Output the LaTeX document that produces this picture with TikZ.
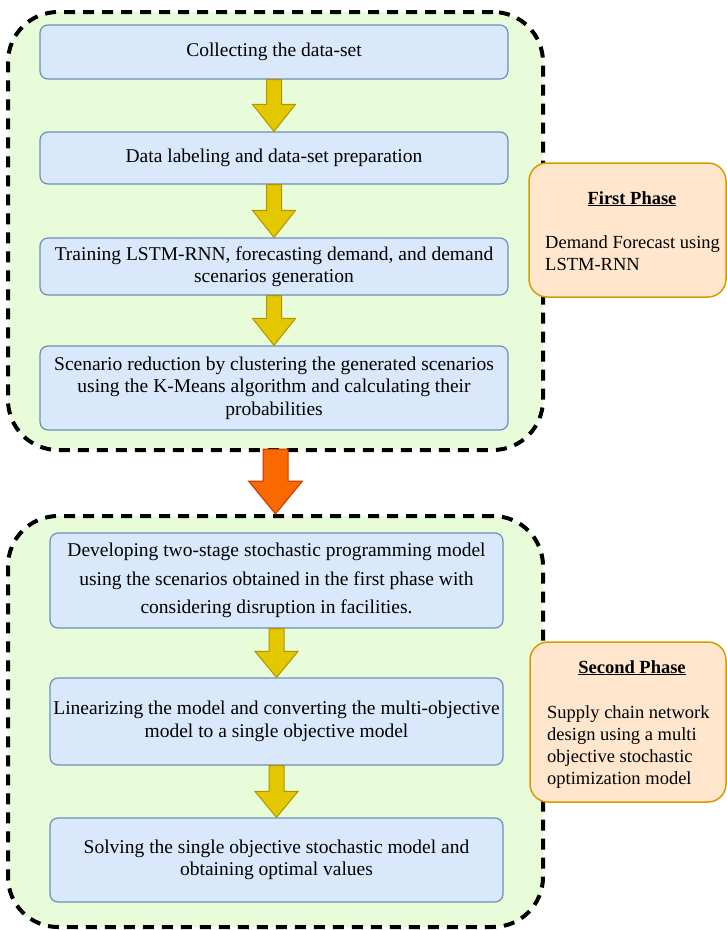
\documentclass[tikz,border=0pt]{standalone}
\usepackage{fontspec}
\setmainfont{Liberation Serif}
\usetikzlibrary{calc}

\definecolor{boxfill}{HTML}{DAE8FC}
\definecolor{boxline}{HTML}{6C8EBF}
\definecolor{phasefill}{HTML}{FFE6CC}
\definecolor{phaseline}{HTML}{D79B00}
\definecolor{groupfill}{RGB}{232,252,218}
\definecolor{yfill}{HTML}{E3C800}
\definecolor{yline}{HTML}{B09500}
\definecolor{ofill}{HTML}{FA6800}
\definecolor{oline}{HTML}{C73500}

\newcommand{\mainfs}{\fontsize{19.5}{22.5}\selectfont}
\newcommand{\phasefs}{\fontsize{18.5}{22.5}\selectfont}

% block arrow: style, start point, tip point, half shaft width, half head width, head length
\newcommand{\blkarrow}[6]{%
  \draw[#1] ($(#2)+(-#4,0)$) -- ($(#3)+(-#4,-#6)$) -- ($(#3)+(-#5,-#6)$) -- (#3)
    -- ($(#3)+(#5,-#6)$) -- ($(#3)+(#4,-#6)$) -- ($(#2)+(#4,0)$) -- cycle;}

\tikzset{
  stepbox/.style={draw=boxline, fill=boxfill, rounded corners=8, line width=1.2,
    align=center, font=\mainfs, inner sep=0pt},
  phasebox/.style={draw=phaseline, fill=phasefill, rounded corners=18, line width=1.5},
  group/.style={draw=black, fill=groupfill, dash pattern=on 11pt off 8pt,
    line width=4, rounded corners=50},
  yarrow/.style={fill=yfill, draw=yline, line width=1},
  oarrow/.style={fill=ofill, draw=oline, line width=1},
  phasetitle/.style={font=\phasefs\bfseries, anchor=base, inner sep=0pt},
  phasebody/.style={font=\phasefs, align=left, anchor=north west, inner sep=0pt},
}

\begin{document}
\begin{tikzpicture}[x=1pt, y=-1pt]
\useasboundingbox (0,0) rectangle (727,930);

% the two phase groups
\node[group, minimum width=535, minimum height=438] (g1) at (275.5,231) {};
\node[group, minimum width=535, minimum height=411] (g2) at (275.5,721.5) {};

% first phase steps
\node[stepbox, minimum width=468, minimum height=54] (b1) at (274,52)
  {Collecting the data-set};
\node[stepbox, minimum width=468, minimum height=52] (b2) at (274,158)
  {Data labeling and data-set preparation};
\node[stepbox, minimum width=468, minimum height=57] (b3) at (274,266.5)
  {Training LSTM-RNN, forecasting demand, and demand\\scenarios generation};
\node[stepbox, minimum width=468, minimum height=84] (b4) at (274,388)
  {Scenario reduction by clustering the generated scenarios\\using the K-Means algorithm and calculating their\\probabilities};

% second phase steps
\node[stepbox, minimum width=453, minimum height=95, font=\fontsize{19.5}{28.5}\selectfont] (b5) at (276.5,580.5)
  {Developing two-stage stochastic programming model\\using the scenarios obtained in the first phase with\\considering disruption in facilities.};
\node[stepbox, minimum width=453, minimum height=87] (b6) at (276.5,721.5)
  {Linearizing the model and converting the multi-objective\\model to a single objective model};
\node[stepbox, minimum width=453, minimum height=84] (b7) at (276.5,860)
  {Solving the single objective stochastic model and\\obtaining optimal values};

% arrows between steps
\blkarrow{yarrow}{b1.south}{b2.north}{7.5}{21.5}{27}
\blkarrow{yarrow}{b2.south}{b3.north}{7.5}{21.5}{27}
\blkarrow{yarrow}{b3.south}{b4.north}{7.5}{21.5}{27}
\blkarrow{yarrow}{b5.south}{b6.north}{7.5}{21.5}{26}
\blkarrow{yarrow}{b6.south}{b7.north}{7.5}{21.5}{26}

% arrow between the phases
\coordinate (ostart) at ($(g1.south)+(0,-3)$);
\blkarrow{oarrow}{ostart}{g2.north}{12.5}{27}{33}

% phase descriptions
\node[phasebox, minimum width=197, minimum height=134] (p1) at (627.5,230) {};
\node[phasetitle] (p1t) at (632,204) {\underline{First Phase}};
\node[phasebody] (p1b) at (545,235.3) {Demand Forecast using\\LSTM-RNN};

\node[phasebox, minimum width=196, minimum height=160] (p2) at (628,722) {};
\node[phasetitle] (p2t) at (632,673) {\underline{Second Phase}};
\node[phasebody, font=\fontsize{18.5}{22}\selectfont] (p2b) at (547,705.3)
  {Supply chain network\\design using a multi\\objective stochastic\\optimization model};
\end{tikzpicture}
\end{document}
